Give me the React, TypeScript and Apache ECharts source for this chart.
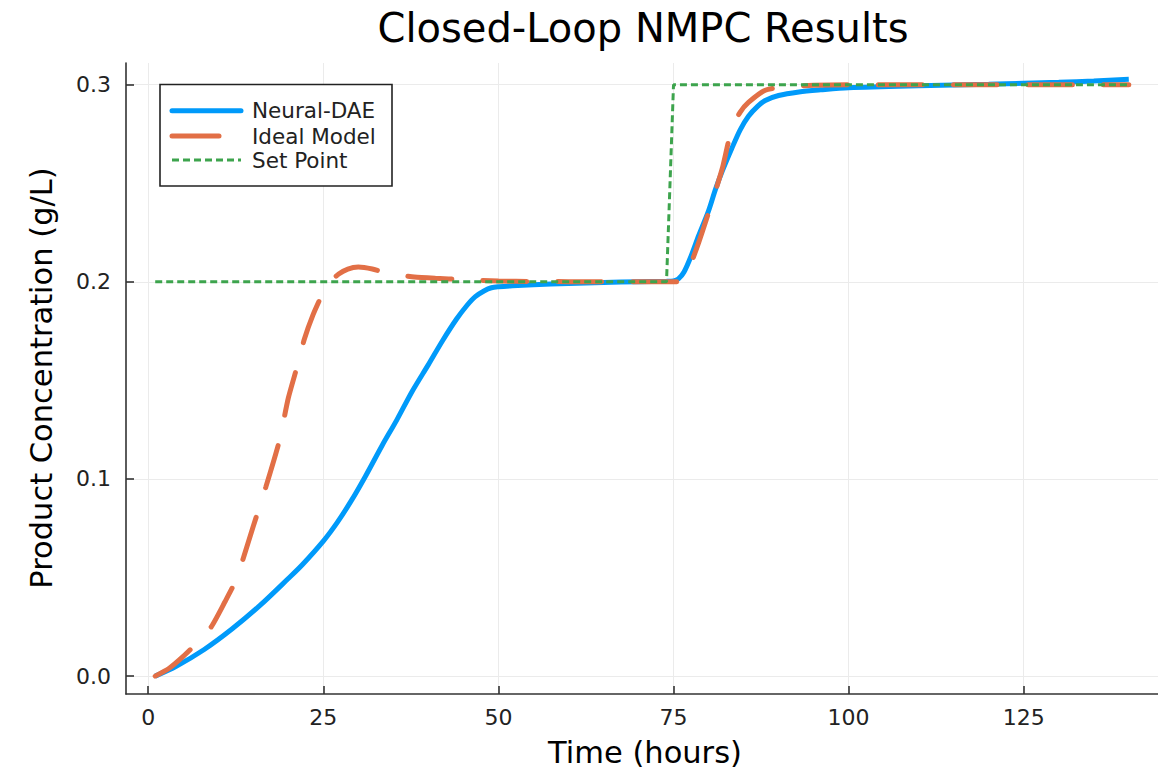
import React, { useEffect, useRef } from "react";
import * as echarts from "echarts";

const FONT = "DejaVu Sans";

const X_TICKS = [0, 25, 50, 75, 100, 125];
const Y_TICKS = [0, 0.1, 0.2, 0.3];

const NEURAL_T = [1, 4, 8, 12, 16, 20, 22, 25, 27, 29, 31, 33.4, 35.5, 37.7, 40, 42, 44, 45.5, 46.7, 48, 49, 50, 52, 55, 60, 65, 70, 74, 75, 75.7, 76.5, 77.5, 78.6, 80, 81, 82, 83.3, 84.5, 85.7, 87, 88.1, 90, 92.9, 96, 100, 110, 120, 125, 130, 135, 140];
const NEURAL = [0, 0.005, 0.0135, 0.024, 0.036, 0.0495, 0.0565, 0.0685, 0.078, 0.089, 0.1013, 0.117, 0.13, 0.1445, 0.158, 0.17, 0.181, 0.188, 0.1925, 0.1955, 0.197, 0.1975, 0.198, 0.1985, 0.1992, 0.1997, 0.2001, 0.2003, 0.2005, 0.2015, 0.205, 0.213, 0.2235, 0.236, 0.247, 0.2565, 0.2675, 0.277, 0.284, 0.289, 0.292, 0.2945, 0.2963, 0.2974, 0.2985, 0.2995, 0.3002, 0.3007, 0.3012, 0.3019, 0.3027];

const IDEAL_T = [1, 3, 5, 7, 9, 11, 12.3, 13.5, 15, 16.8, 18.7, 20, 21.3, 22.3, 23.5, 24.9, 26, 27.2, 28.5, 30, 32, 34, 36, 38, 41, 44.8, 50, 55, 60, 70, 75, 76, 77, 78.6, 80.5, 82, 83.3, 84.5, 85.7, 88.1, 91, 95, 100, 120, 140];
const IDEAL = [0, 0.004, 0.01, 0.017, 0.025, 0.038, 0.047, 0.059, 0.076, 0.096, 0.119, 0.141, 0.1575, 0.171, 0.183, 0.194, 0.2, 0.204, 0.2065, 0.2075, 0.2065, 0.2045, 0.2033, 0.2024, 0.2018, 0.2012, 0.2004, 0.2002, 0.2001, 0.2, 0.2, 0.2005, 0.205, 0.22, 0.2405, 0.258, 0.2777, 0.286, 0.291, 0.2972, 0.2989, 0.2997, 0.3, 0.3, 0.3];

const SET_T = [1, 74, 75, 140];
const SET_POINT = [0.2, 0.2, 0.3, 0.3];

const zip = (t: number[], v: number[]) => t.map((x, i) => [x, v[i]]);

export default function App() {
  const ref = useRef<HTMLDivElement>(null);
  useEffect(() => {
    document.body.style.margin = "0";
    const chart = echarts.init(ref.current!, null, { renderer: "svg" });
    const axisColor = "#333";
    const gridColor = "#ebebeb";
    const legendY = [110.7, 136, 160];
    chart.setOption({
      animation: false,
      backgroundColor: "#fff",
      textStyle: { fontFamily: FONT },
      grid: { left: 126, top: 63, width: 1034, height: 631, containLabel: false },
      xAxis: {
        type: "value",
        min: -3.17,
        max: 144.17,
        axisLine: { show: true, onZero: false, lineStyle: { color: axisColor, width: 1.6 } },
        axisTick: { show: true, inside: true, length: 8, customValues: X_TICKS, lineStyle: { color: axisColor, width: 1.6 } },
        axisLabel: { customValues: X_TICKS, margin: 12, fontSize: 22, color: "#222", fontFamily: FONT },
        splitLine: { show: true, lineStyle: { color: gridColor, width: 1 } },
      },
      yAxis: {
        type: "value",
        min: -0.00906,
        max: 0.311,
        axisLine: { show: true, onZero: false, lineStyle: { color: axisColor, width: 1.6 } },
        axisTick: { show: true, inside: true, length: 8, customValues: Y_TICKS, lineStyle: { color: axisColor, width: 1.6 } },
        axisLabel: {
          customValues: Y_TICKS,
          margin: 15,
          fontSize: 22,
          color: "#222",
          fontFamily: FONT,
          formatter: (v: number) => v.toFixed(1),
        },
        splitLine: { show: true, lineStyle: { color: gridColor, width: 1 } },
      },
      series: [
        {
          name: "Neural-DAE",
          type: "line",
          data: zip(NEURAL_T, NEURAL),
          showSymbol: false,
          smooth: 0.3,
          lineStyle: { color: "#009AFA", width: 5 },
          z: 2,
        },
        {
          name: "Ideal Model",
          type: "line",
          data: zip(IDEAL_T, IDEAL),
          showSymbol: false,
          smooth: 0.2,
          lineStyle: { color: "#E26F46", width: 5, type: [44, 31], cap: "round" },
          z: 3,
        },
        {
          name: "Set Point",
          type: "line",
          data: zip(SET_T, SET_POINT),
          showSymbol: false,
          lineStyle: { color: "#3DA44D", width: 3, type: [7, 4] },
          z: 4,
        },
      ],
      graphic: [
        {
          type: "text",
          x: 643,
          y: 28,
          style: { text: "Closed-Loop NMPC Results", fontSize: 40, fontFamily: FONT, fill: "#000", align: "center", verticalAlign: "middle" },
        },
        {
          type: "text",
          x: 645,
          y: 752,
          style: { text: "Time (hours)", fontSize: 30.5, fontFamily: FONT, fill: "#000", align: "center", verticalAlign: "middle" },
        },
        {
          type: "text",
          x: 41,
          y: 378,
          rotation: Math.PI / 2,
          style: { text: "Product Concentration (g/L)", fontSize: 30.5, fontFamily: FONT, fill: "#000", align: "center", verticalAlign: "middle" },
        },
        {
          type: "rect",
          shape: { x: 160, y: 84.5, width: 232, height: 101.5 },
          style: { fill: "#fff", stroke: "#222", lineWidth: 1.6 },
          z: 10,
        },
        {
          type: "line",
          shape: { x1: 172, y1: legendY[0], x2: 241, y2: legendY[0] },
          style: { stroke: "#009AFA", lineWidth: 5, lineCap: "round" },
          z: 11,
        },
        {
          type: "line",
          shape: { x1: 172, y1: legendY[1], x2: 219, y2: legendY[1] },
          style: { stroke: "#E26F46", lineWidth: 5, lineCap: "round" },
          z: 11,
        },
        {
          type: "line",
          shape: { x1: 172, y1: legendY[2], x2: 241, y2: legendY[2] },
          style: { stroke: "#3DA44D", lineWidth: 3, lineDash: [7, 4] },
          z: 11,
        },
        ...["Neural-DAE", "Ideal Model", "Set Point"].map((name, i) => ({
          type: "text",
          x: 252,
          y: legendY[i],
          z: 11,
          style: { text: name, fontSize: 21.5, fontFamily: FONT, fill: "#222", align: "left", verticalAlign: "middle" },
        })),
      ],
    });
    return () => chart.dispose();
  }, []);
  return <div ref={ref} style={{ width: 1158, height: 769 }} />;
}
